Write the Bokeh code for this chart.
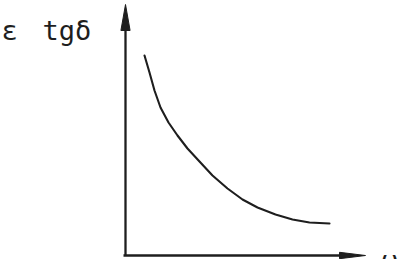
from bokeh.plotting import figure
from bokeh.models import Range1d
from bokeh.core.properties import value
from bokeh.embed import file_html
from bokeh.resources import INLINE

# curve values (omega, eps*tg delta), arbitrary units
omega = [1.9, 2.4, 2.9, 3.5, 4.3, 5.2, 6.2, 7.4, 8.7, 10.2, 11.7, 13.2, 15.0, 16.7, 18.4, 20.4]
eps_tg = [20.0, 18.3, 16.5, 14.8, 13.3, 12.0, 10.7, 9.4, 8.0, 6.7, 5.6, 4.8, 4.1, 3.6, 3.3, 3.2]

y_label = ["ε", "tgδ"]
x_label = "ω"

# axis extents
x_axis_end = 24.0
y_axis_end = 25.1

W, H = 400, 259
X0, X1 = -12.5, 27.5
Y0, Y1 = -0.4, 25.5
p = figure(width=W, height=H, output_backend="svg", toolbar_location=None,
           x_range=Range1d(X0, X1), y_range=Range1d(Y0, Y1),
           min_border=0, outline_line_color=None)
p.axis.visible = False
p.grid.visible = False
p.background_fill_color = "white"
p.border_fill_color = "white"

ink = "#1e1e1e"
# pixel -> data scale
sx = (X1 - X0) / W
sy = (Y1 - Y0) / H

# axes lines
p.segment(x0=[-0.2, 0], y0=[0, 0], x1=[x_axis_end - 20 * sx, 0], y1=[0, y_axis_end - 20 * sy],
          line_color=ink, line_width=2.3)
# arrowheads
p.patch([x_axis_end, x_axis_end - 26 * sx, x_axis_end - 26 * sx],
        [0, 3.2 * sy, -3.2 * sy], color=ink)
p.patch([0, 4.6 * sx, -4.6 * sx],
        [y_axis_end, y_axis_end - 26 * sy, y_axis_end - 26 * sy], color=ink)

# curve
p.line(omega, eps_tg, line_color=ink, line_width=2.1, line_join="round", line_cap="round")

font = value("DejaVu Sans Mono")
p.text(x=[-12.4, -8.3], y=[22.5, 22.5], text=y_label, text_font=font,
       text_font_size="27px", text_color=ink, text_baseline="alphabetic", text_align="left")
p.text(x=[25.6], y=[-0.5], text=[x_label], text_font=font,
       text_font_size="27px", text_color=ink, text_baseline="alphabetic", text_align="left")

open("out.html", "w").write(file_html(p, INLINE))
